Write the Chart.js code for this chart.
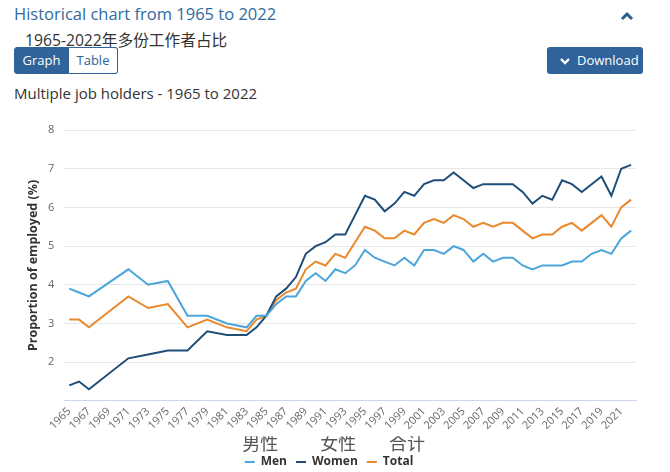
<!DOCTYPE html>
<html lang="zh">
<head>
<meta charset="UTF-8">
<title>Multiple job holders - 1965 to 2022</title>
<script src="https://cdn.jsdelivr.net/npm/chart.js"></script>
<style>
  body { margin: 0; width: 670px; height: 472px; overflow: hidden; background: #fff;
         font-family: "Open Sans", "Noto Sans CJK SC", sans-serif; position: relative; }
  .heading { position: absolute; left: 14px; top: 2px; font-size: 16.5px; color: #2f6aa1; white-space: nowrap; }
  .toggle { position: absolute; left: 620px; top: 11px; }
  .subtitle { position: absolute; left: 25px; top: 28px; font-size: 15.7px; color: #333; white-space: nowrap; }
  .tabs { position: absolute; left: 14px; top: 47px; height: 27px; display: flex; }
  .tabs span { display: block; box-sizing: border-box; height: 27px; line-height: 25px; font-size: 13px;
               text-align: center; border: 1px solid #30639a; }
  .tabs .on { width: 55px; background: #30639a; color: #fff; border-radius: 3px 0 0 3px; }
  .tabs .off { width: 49px; background: #fff; color: #30639a; border-radius: 0 3px 3px 0; border-left: none; }
  .download { position: absolute; left: 547px; top: 47px; width: 96px; height: 27px; background: #30639a;
              border-radius: 3px; color: #fff; font-size: 13px; line-height: 27px; }
  .download svg { position: absolute; left: 13px; top: 10px; }
  .download span { position: absolute; left: 30px; }
  .chart-title { position: absolute; left: 14px; top: 83px; font-size: 15px; color: #333; white-space: nowrap; }
  .chart-box { position: absolute; left: 14px; top: 106px; width: 636px; height: 372px; }
</style>
</head>
<body>
<div class="heading">Historical chart from 1965 to 2022</div>
<svg class="toggle" width="14" height="10"><polyline points="2,8 7,3 12,8" fill="none" stroke="#2c5c8c" stroke-width="3"/></svg>
<div class="subtitle">1965-2022年多份工作者占比</div>
<div class="tabs"><span class="on">Graph</span><span class="off">Table</span></div>
<div class="download"><svg width="10" height="8"><polyline points="1,2 5,6 9,2" fill="none" stroke="#fff" stroke-width="2.4"/></svg><span>Download</span></div>
<div class="chart-title">Multiple job holders - 1965 to 2022</div>
<div class="chart-box"><canvas id="jobChart"></canvas></div>

<script>
// Jahre (Kategorien der x-Achse)
const years = ['1965','1966','1967','1968','1969','1970','1971','1972','1973','1974',
               '1975','1976','1977','1978','1979','1980','1981','1982','1983','1984',
               '1985','1986','1987','1988','1989','1990','1991','1992','1993','1994',
               '1995','1996','1997','1998','1999','2000','2001','2002','2003','2004',
               '2005','2006','2007','2008','2009','2010','2011','2012','2013','2014',
               '2015','2016','2017','2018','2019','2020','2021','2022'];

// Anteil der Erwerbstätigen mit mehreren Jobs (%), null = kein Wert
const men   = [3.9, 3.8, 3.7, null, null, null, 4.4, null, 4.0, null,
               4.1, null, 3.2, null, 3.2, null, 3.0, null, 2.9, 3.2,
               3.2, 3.5, 3.7, 3.7, 4.1, 4.3, 4.1, 4.4, 4.3, 4.5,
               4.9, 4.7, 4.6, 4.5, 4.7, 4.5, 4.9, 4.9, 4.8, 5.0,
               4.9, 4.6, 4.8, 4.6, 4.7, 4.7, 4.5, 4.4, 4.5, 4.5,
               4.5, 4.6, 4.6, 4.8, 4.9, 4.8, 5.2, 5.4];
const women = [1.4, 1.5, 1.3, null, null, null, 2.1, null, 2.2, null,
               2.3, null, 2.3, null, 2.8, null, 2.7, null, 2.7, 2.9,
               3.2, 3.7, 3.9, 4.2, 4.8, 5.0, 5.1, 5.3, 5.3, 5.8,
               6.3, 6.2, 5.9, 6.1, 6.4, 6.3, 6.6, 6.7, 6.7, 6.9,
               6.7, 6.5, 6.6, 6.6, 6.6, 6.6, 6.4, 6.1, 6.3, 6.2,
               6.7, 6.6, 6.4, 6.6, 6.8, 6.3, 7.0, 7.1];
const total = [3.1, 3.1, 2.9, null, null, null, 3.7, null, 3.4, null,
               3.5, null, 2.9, null, 3.1, null, 2.9, null, 2.8, 3.1,
               3.2, 3.6, 3.8, 3.9, 4.4, 4.6, 4.5, 4.8, 4.7, 5.1,
               5.5, 5.4, 5.2, 5.2, 5.4, 5.3, 5.6, 5.7, 5.6, 5.8,
               5.7, 5.5, 5.6, 5.5, 5.6, 5.6, 5.4, 5.2, 5.3, 5.3,
               5.5, 5.6, 5.4, 5.6, 5.8, 5.5, 6.0, 6.2];

const seriesNames = ['Men', 'Women', 'Total'];
const seriesColors = ['#4ba4da', '#1f4e79', '#e8892b'];
// chinesische Beschriftung über der Legende
const legendCaption = '  男性         女性       合计';

Chart.defaults.font.family = '"Open Sans", "Noto Sans CJK SC", sans-serif';

const ctx = document.getElementById('jobChart').getContext('2d');
new Chart(ctx, {
    type: 'line',
    data: {
        labels: years,
        datasets: [men, women, total].map((values, i) => ({
            label: seriesNames[i],
            data: values,
            borderColor: seriesColors[i],
            backgroundColor: seriesColors[i],
            borderWidth: 2,
            pointRadius: 0,
            tension: 0,
            spanGaps: true,
            fill: false
        }))
    },
    options: {
        responsive: true,
        maintainAspectRatio: false,
        animation: false,
        layout: { padding: { left: 8, right: 14, top: 24, bottom: 0 } },
        scales: {
            x: {
                type: 'category',
                offset: true,
                grid: { display: false, drawTicks: false },
                border: { color: '#ccd6eb' },
                ticks: {
                    autoSkip: false,
                    minRotation: 45,
                    maxRotation: 45,
                    padding: 4.1,
                    color: '#666',
                    font: { size: 11 },
                    callback: (value, index) => index % 2 === 0 ? years[index] : null
                }
            },
            y: {
                min: 1,
                max: 8,
                ticks: {
                    stepSize: 1,
                    padding: 10,
                    color: '#666',
                    font: { size: 11 },
                    callback: value => value === 1 ? '' : value
                },
                grid: { color: '#e6e6e6', drawTicks: false },
                border: { display: false },
                title: {
                    display: true,
                    text: 'Proportion of employed (%)',
                    color: '#333',
                    padding: { top: 4, bottom: -3 },
                    font: { size: 12.5, weight: 'bold' }
                }
            }
        },
        plugins: {
            legend: {
                position: 'bottom',
                title: {
                    display: true,
                    text: legendCaption,
                    color: '#555',
                    font: { size: 18, weight: 'normal', lineHeight: 0.6 },
                    padding: 0
                },
                labels: {
                    usePointStyle: true,
                    pointStyle: 'line',
                    pointStyleWidth: 10,
                    color: '#333',
                    font: { size: 12, weight: 'bold' },
                    padding: 9
                }
            },
            tooltip: { enabled: true }
        }
    }
});
</script>
</body>
</html>
